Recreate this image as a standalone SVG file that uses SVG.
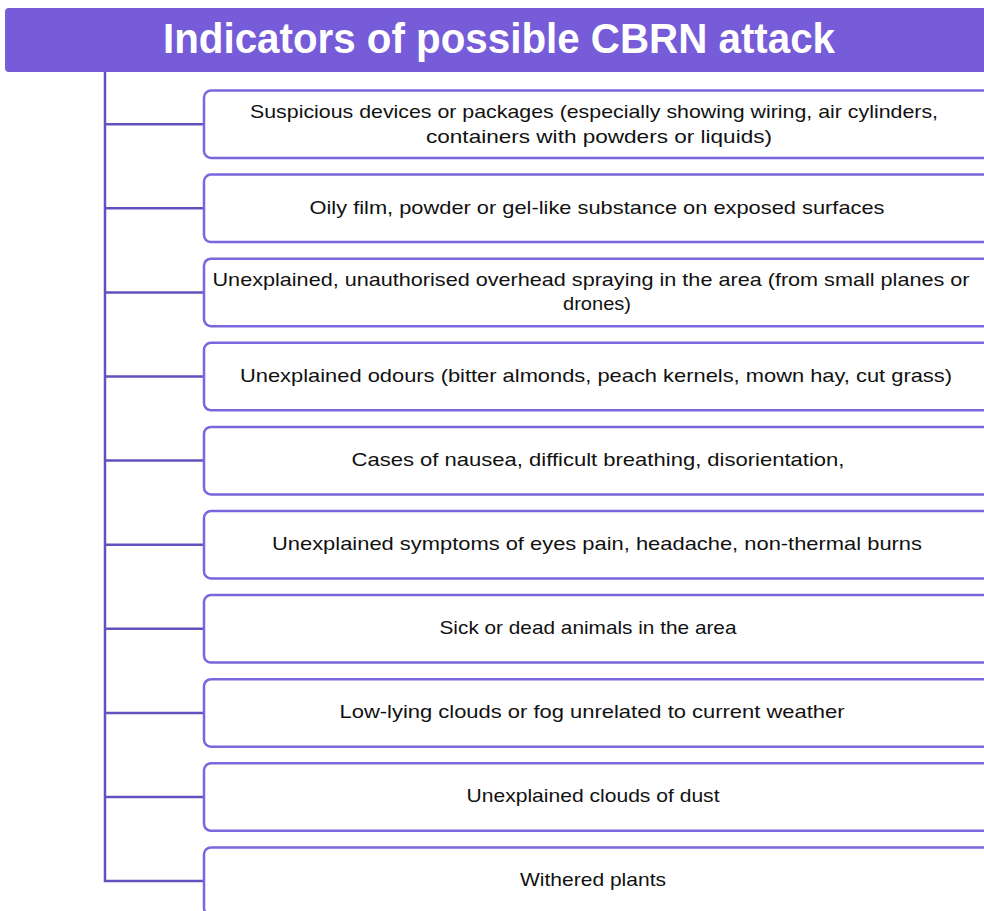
<svg xmlns="http://www.w3.org/2000/svg" width="984" height="911" viewBox="0 0 984 911">
  <style>
    .hdr { fill: #765CD8; }
    .title { font-family: "Liberation Sans", Arial, sans-serif; font-weight: bold; font-size: 42px; fill: #ffffff; text-anchor: middle; }
    .box { fill: #ffffff; stroke: #7A66DE; stroke-width: 2.5; }
    .lbl { font-family: "Liberation Sans", Arial, sans-serif; font-size: 19px; fill: #111111; text-anchor: middle; }
    .wire { stroke: #6450BF; stroke-width: 2.5; fill: none; }
  </style>
  <rect width="984" height="911" fill="#ffffff"/>

  <!-- header bar -->
  <g id="header">
    <rect class="hdr" x="5" y="8" width="1000" height="64" rx="4"/>
    <text class="title" x="499" y="53" textLength="672" lengthAdjust="spacingAndGlyphs">Indicators of possible CBRN attack</text>
  </g>

  <!-- trunk and branches -->
  <g id="connectors">
    <path class="wire" d="M105 72 V881 H204"/>
    <path class="wire" d="M105 124.2 H204 M105 208.3 H204 M105 292.4 H204 M105 376.5 H204 M105 460.6 H204 M105 544.7 H204 M105 628.8 H204 M105 712.9 H204 M105 797 H204"/>
  </g>

  <g id="n1">
    <rect class="box" x="204" y="90.5" width="800" height="67.5" rx="7"/>
    <text class="lbl" x="594" y="118" textLength="688" lengthAdjust="spacingAndGlyphs">Suspicious devices or packages (especially showing wiring, air cylinders,</text>
    <text class="lbl" x="599" y="143" textLength="346" lengthAdjust="spacingAndGlyphs">containers with powders or liquids)</text>
  </g>
  <g id="n2">
    <rect class="box" x="204" y="174.6" width="800" height="67.5" rx="7"/>
    <text class="lbl" x="597" y="213.5" textLength="575" lengthAdjust="spacingAndGlyphs">Oily film, powder or gel-like substance on exposed surfaces</text>
  </g>
  <g id="n3">
    <rect class="box" x="204" y="258.7" width="800" height="67.5" rx="7"/>
    <text class="lbl" x="591" y="285.5" textLength="757" lengthAdjust="spacingAndGlyphs">Unexplained, unauthorised overhead spraying in the area (from small planes or</text>
    <text class="lbl" x="597" y="309.5" textLength="68" lengthAdjust="spacingAndGlyphs">drones)</text>
  </g>
  <g id="n4">
    <rect class="box" x="204" y="342.8" width="800" height="67.5" rx="7"/>
    <text class="lbl" x="596" y="381.5" textLength="712" lengthAdjust="spacingAndGlyphs">Unexplained odours (bitter almonds, peach kernels, mown hay, cut grass)</text>
  </g>
  <g id="n5">
    <rect class="box" x="204" y="426.9" width="800" height="67.5" rx="7"/>
    <text class="lbl" x="598" y="465.6" textLength="493" lengthAdjust="spacingAndGlyphs">Cases of nausea, difficult breathing, disorientation,</text>
  </g>
  <g id="n6">
    <rect class="box" x="204" y="511" width="800" height="67.5" rx="7"/>
    <text class="lbl" x="597" y="549.7" textLength="650" lengthAdjust="spacingAndGlyphs">Unexplained symptoms of eyes pain, headache, non-thermal burns</text>
  </g>
  <g id="n7">
    <rect class="box" x="204" y="595.1" width="800" height="67.5" rx="7"/>
    <text class="lbl" x="588" y="633.8" textLength="297" lengthAdjust="spacingAndGlyphs">Sick or dead animals in the area</text>
  </g>
  <g id="n8">
    <rect class="box" x="204" y="679.2" width="800" height="67.5" rx="7"/>
    <text class="lbl" x="592" y="717.9" textLength="505" lengthAdjust="spacingAndGlyphs">Low-lying clouds or fog unrelated to current weather</text>
  </g>
  <g id="n9">
    <rect class="box" x="204" y="763.3" width="800" height="67.5" rx="7"/>
    <text class="lbl" x="593" y="802" textLength="253" lengthAdjust="spacingAndGlyphs">Unexplained clouds of dust</text>
  </g>
  <g id="n10">
    <rect class="box" x="204" y="847.4" width="800" height="67.5" rx="7"/>
    <text class="lbl" x="593" y="886.1" textLength="146" lengthAdjust="spacingAndGlyphs">Withered plants</text>
  </g>
</svg>
